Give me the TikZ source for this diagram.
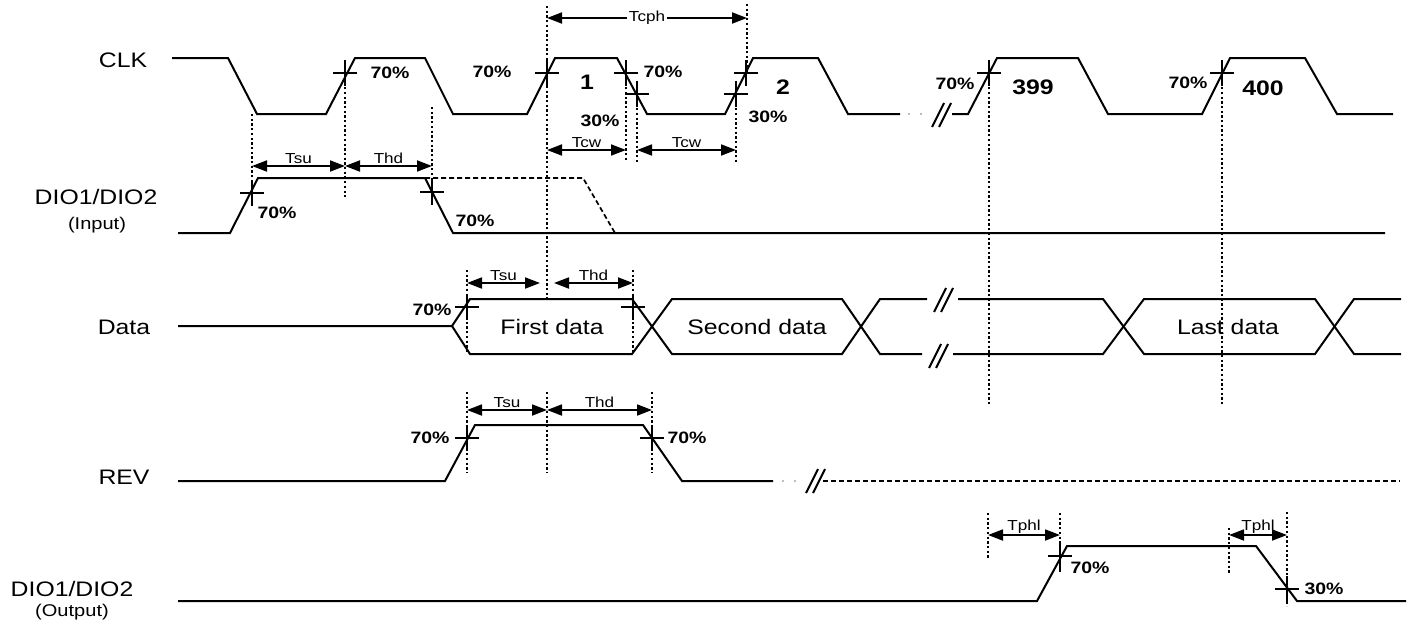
\documentclass[tikz,border=0pt]{standalone}
\usepackage{fontspec}
\setmainfont{Liberation Sans}[FakeStretch=1.18]
\usetikzlibrary{arrows.meta}
\newcommand\tmark[2]{\draw[sig] (#1-12,#2)--(#1+12,#2) (#1,#2-13)--(#1,#2+13);}
\newcommand\brkmark[2]{\draw[sig] (#1-9,#2+12)--(#1+3,#2-12) (#1-2,#2+12)--(#1+10,#2-12);}
\begin{document}
\begin{tikzpicture}[x=1pt,y=-1pt,
  sig/.style={line width=2pt,line join=miter},
  vdot/.style={line width=2.3pt,dash pattern=on 2.3pt off 2.4pt},
  dsh/.style={line width=1.7pt,dash pattern=on 5pt off 3pt},
  dim/.style={line width=1.8pt,{Triangle[length=15pt,width=11pt]}-{Triangle[length=15pt,width=11pt]}},
  lab/.style={font=\fontsize{14.5}{14.5}\selectfont, inner sep=1pt},
  pct/.style={font=\bfseries\fontsize{16.5}{16.5}\selectfont, inner sep=0pt},
  num/.style={font=\bfseries\fontsize{21}{21}\selectfont, inner sep=0pt},
  sname/.style={font=\fontsize{21}{21}\selectfont, inner sep=0pt},
  ssub/.style={font=\fontsize{17}{17}\selectfont, inner sep=0pt},
  dtxt/.style={font=\fontsize{21}{21}\selectfont, inner sep=0pt},
  bdot/.style={fill=gray!70}
]
\useasboundingbox (0,0) rectangle (1410,624);

% signal names
\node[sname] (nclk) at (123,60) {CLK};
\node[sname] (ndin) at (96,197) {DIO1/DIO2};
\node[ssub] (ndin2) at (97,225) {(Input)};
\node[sname] (ndata) at (124,327) {Data};
\node[sname] (nrev) at (124,477) {REV};
\node[sname] (ndout) at (72,589) {DIO1/DIO2};
\node[ssub] (ndout2) at (72,612) {(Output)};

% CLK
\draw[sig] (172,58)--(228,58)--(257,114)--(326,114)--(355,58)--(425,58)--(453,114)--(527,114)--(555,58)--(617,58)--(647,114)--(725,114)--(753,58)--(818,58)--(848,114)--(900,114);
\fill[bdot] (909,114) circle (1.1pt) (921,114) circle (1.1pt);
\brkmark{941}{115}
\draw[sig] (952,114)--(968,114)--(997,58)--(1078,58)--(1108,114)--(1202,114)--(1230,58)--(1305,58)--(1337,114)--(1393,114);

% DIO input
\draw[sig] (178,233)--(230,233)--(258,178)--(425,178)--(453,233)--(1385,233);
\draw[dsh] (425,178)--(583,178)--(615,233);

% Data
\draw[sig] (178,326)--(452,326)--(470,299)--(632,299)--(672,354)--(842,354)--(880,299)--(927,299);
\draw[sig] (452,326)--(470,354)--(632,354)--(672,299)--(842,299)--(880,354)--(922,354);
\brkmark{943}{300}
\brkmark{938}{356}
\draw[sig] (958,299)--(1103,299)--(1144,354)--(1315,354)--(1354,299)--(1401,299);
\draw[sig] (953,354)--(1103,354)--(1144,299)--(1315,299)--(1354,354)--(1401,354);
\node[dtxt] (d1) at (552,327) {First data};
\node[dtxt] (d2) at (757,327) {Second data};
\node[dtxt] (d3) at (1228,327) {Last data};

% REV
\draw[sig] (178,481)--(445,481)--(475,425)--(643,425)--(682,481)--(773,481);
\fill[bdot] (783,481) circle (1.1pt) (795,481) circle (1.1pt);
\brkmark{815}{481}
\draw[dsh] (823,481)--(1400,481);

% DIO output
\draw[sig] (178,601)--(1037,601)--(1067,546)--(1256,546)--(1297,601)--(1406,601);

% dotted guide lines
\draw[vdot] (252,114)--(252,197);
\draw[vdot] (345,73)--(345,197);
\draw[vdot] (432,107)--(432,192);
\draw[vdot] (547,6)--(547,298);
\draw[vdot] (547,392)--(547,473);
\draw[vdot] (626,73)--(626,160);
\draw[vdot] (637,94)--(637,162);
\draw[vdot] (736,94)--(736,163);
\draw[vdot] (747,4)--(747,73);
\draw[vdot] (467,270)--(467,352);
\draw[vdot] (633,270)--(633,352);
\draw[vdot] (467,392)--(467,473);
\draw[vdot] (652,392)--(652,473);
\draw[vdot] (989,73)--(989,405);
\draw[vdot] (1222,73)--(1222,405);
\draw[vdot] (988,513)--(988,558);
\draw[vdot] (1060,513)--(1060,572);
\draw[vdot] (1229,528)--(1229,574);
\draw[vdot] (1287,512)--(1287,606);

% threshold marks
\tmark{345}{73}
\tmark{547}{73}
\tmark{626}{73}
\tmark{637}{94}
\tmark{736}{94}
\tmark{746}{73}
\tmark{989}{73}
\tmark{1222}{73}
\tmark{252}{193}
\tmark{432}{192}
\tmark{467}{307}
\tmark{633}{307}
\tmark{467}{438}
\tmark{652}{438}
\tmark{1060}{556}
\tmark{1287}{589}

% dimension arrows
\draw[dim] (547,18)--(747,18) node[midway,lab,fill=white,inner sep=2pt] {Tcph};
\draw[dim] (547,150)--(626,150) node[midway,above,lab] {Tcw};
\draw[dim] (637,150)--(736,150) node[midway,above,lab] {Tcw};
\draw[dim] (252,166)--(345,166) node[midway,above,lab] {Tsu};
\draw[dim] (345,166)--(432,166) node[midway,above,lab] {Thd};
\draw[dim] (467,283)--(540,283) node[midway,above,lab] {Tsu};
\draw[dim] (554,283)--(633,283) node[midway,above,lab] {Thd};
\draw[dim] (467,410)--(547,410) node[midway,above,lab] {Tsu};
\draw[dim] (547,410)--(652,410) node[midway,above,lab] {Thd};
\draw[dim] (988,535)--(1060,535) node[midway,above,lab] {Tphl};
\draw[dim] (1229,535)--(1287,535) node[midway,above,lab] {Tphl};

% percent and pulse labels
\node[pct] (p1) at (390,73) {70\%};
\node[pct] (p2) at (492,72) {70\%};
\node[num] (n1) at (587,82) {1};
\node[pct] (p3) at (600,121) {30\%};
\node[pct] (p4) at (663,72) {70\%};
\node[num] (n2) at (783,87) {2};
\node[pct] (p5) at (768,117) {30\%};
\node[pct] (p6) at (955,84) {70\%};
\node[num] (n399) at (1033,87) {399};
\node[pct] (p7) at (1188,83) {70\%};
\node[num] (n400) at (1263,88) {400};
\node[pct] (p8) at (277,213) {70\%};
\node[pct] (p9) at (475,221) {70\%};
\node[pct] (p10) at (432,310) {70\%};
\node[pct] (p11) at (430,438) {70\%};
\node[pct] (p12) at (687,438) {70\%};
\node[pct] (p13) at (1090,568) {70\%};
\node[pct] (p14) at (1324,589) {30\%};
\end{tikzpicture}
\end{document}
